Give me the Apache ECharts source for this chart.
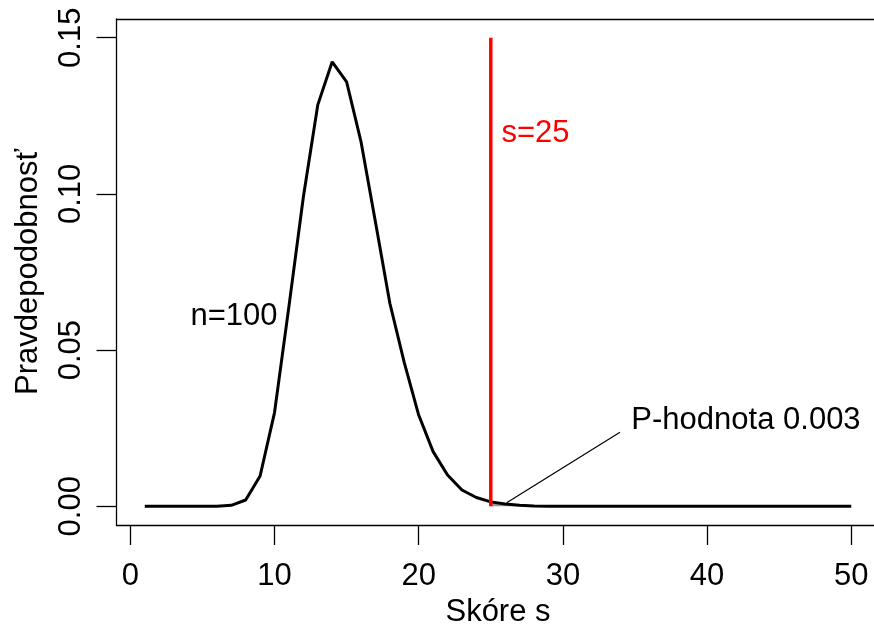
<!DOCTYPE html>
<html>
<head>
<meta charset="utf-8">
<script src="https://cdn.jsdelivr.net/npm/echarts@6/dist/echarts.min.js"></script>
<style>
html,body{margin:0;padding:0;background:#fff;}
#c{width:874px;height:629px;}
</style>
</head>
<body>
<div id="c"></div>
<script>
// Data
const scores = [];
for (let k = 1; k <= 50; k++) scores.push(k);
const probs = [
  0, 0, 0, 0, 0, 0, 0.0003, 0.002, 0.0097, 0.030,
  0.064, 0.099, 0.1285, 0.1423, 0.1359, 0.1167, 0.091, 0.065, 0.046, 0.0292,
  0.0175, 0.010, 0.0052, 0.0028, 0.0014, 0.0007, 0.0003, 0.0001, 0, 0,
  0, 0, 0, 0, 0, 0, 0, 0, 0, 0,
  0, 0, 0, 0, 0, 0, 0, 0, 0, 0
];
const xTicks = [0, 10, 20, 30, 40, 50];
const yTicks = [0, 0.05, 0.10, 0.15];
const observedScore = 25;
const redLineTop = 0.15;
const pValueText = 'P-hodnota 0.003';
const nText = 'n=100';
const sText = 's=25';
const xTitle = 'Skóre s';
const yTitle = 'Pravdepodobnosť';

const curve = scores.map((s, i) => [s, probs[i]]);
const tail = curve.filter(p => p[0] >= observedScore);

const FONT = '"Liberation Sans", Arial, Helvetica, sans-serif';
const FS = 31;
const AX = {color: '#000', width: 1.3};

const chart = echarts.init(document.getElementById('c'), null, {renderer: 'canvas'});
chart.setOption({
  animation: false,
  backgroundColor: '#fff',
  grid: {
    left: 116.5, top: 19, width: 763, height: 506,
    outerBoundsMode: 'none', containLabel: false, show: false
  },
  xAxis: [{
    type: 'value', min: -0.96, max: 51.96, position: 'bottom',
    axisLine: {show: true, onZero: false, lineStyle: AX},
    splitLine: {show: false},
    axisTick: {show: true, length: 20, inside: false, customValues: xTicks, lineStyle: AX},
    axisLabel: {customValues: xTicks, color: '#000', fontSize: FS, fontFamily: FONT, margin: 36},
    name: xTitle, nameLocation: 'middle', nameGap: 70,
    nameTextStyle: {color: '#000', fontSize: FS, fontFamily: FONT}
  }, {
    type: 'value', min: -0.96, max: 51.96, position: 'top',
    axisLine: {show: true, onZero: false, lineStyle: AX},
    splitLine: {show: false}, axisTick: {show: false}, axisLabel: {show: false}
  }],
  yAxis: {
    type: 'value', min: -0.006, max: 0.156,
    axisLine: {show: true, onZero: false, lineStyle: AX},
    splitLine: {show: false},
    axisTick: {show: true, length: 20, inside: false, customValues: yTicks, lineStyle: AX},
    axisLabel: {customValues: yTicks, rotate: 90, color: '#000', fontSize: FS, fontFamily: FONT, margin: 30,
      formatter: v => v.toFixed(2)},
    name: yTitle, nameLocation: 'middle', nameGap: 73,
    nameTextStyle: {color: '#000', fontSize: FS, fontFamily: FONT}
  },
  series: [
    {
      type: 'line', data: tail, symbol: 'none',
      lineStyle: {width: 0}, areaStyle: {color: '#999', opacity: 1}, z: 1
    },
    {
      type: 'line', data: curve, symbol: 'none',
      lineStyle: {color: '#000', width: 3}, z: 3
    },
    {
      type: 'line', data: [[observedScore, 0], [observedScore, redLineTop]], symbol: 'none',
      lineStyle: {color: '#ff0000', width: 3.5}, z: 4
    },
    {
      type: 'line', data: [[26.1, 0.00115], [33.96, 0.0237]], symbol: 'none',
      lineStyle: {color: '#000', width: 1.2}, z: 4
    },
    {
      type: 'scatter', symbolSize: 0, z: 5,
      itemStyle: {opacity: 1},
      data: [
        {value: [7.19, 0.0609], label: {formatter: nText, color: '#000000'}},
        {value: [28.1, 0.1195], label: {formatter: sText, color: '#ff0000'}},
        {value: [42.7, 0.0276], label: {formatter: pValueText, color: '#000000'}}
      ],
      label: {show: true, position: 'inside', fontSize: FS, fontFamily: FONT,
        textBorderWidth: 0, textShadowBlur: 0, opacity: 1}
    }
  ]
});
</script>
</body>
</html>
